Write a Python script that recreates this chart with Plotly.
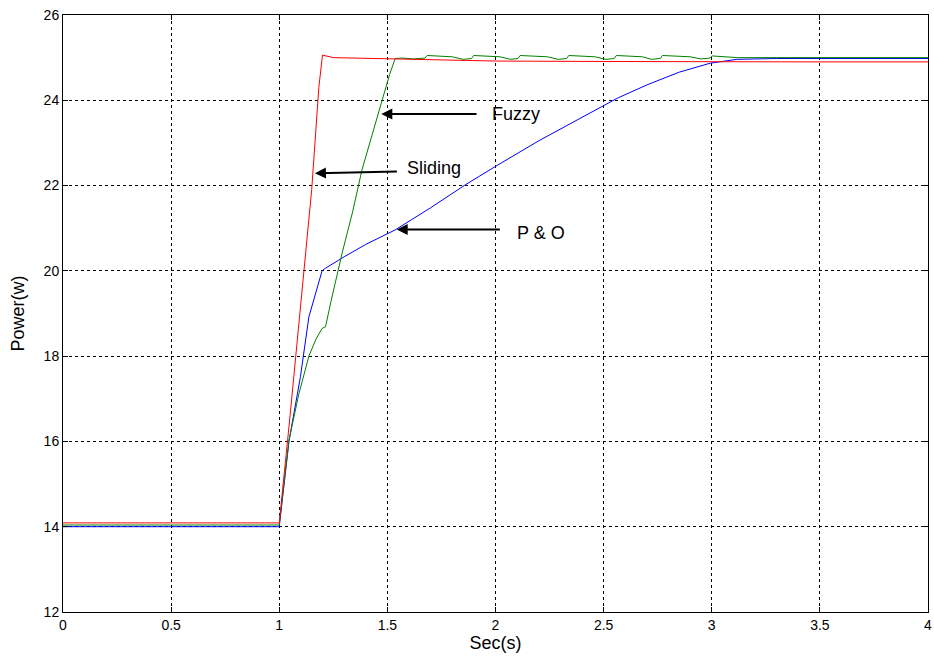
import plotly.graph_objects as go

# Time axis (s) and power (W) traces for the three MPPT controllers
t_sliding = [0.0, 1.0, 1.05, 1.1, 1.15, 1.183, 1.2, 1.25, 1.5, 1.7, 2.0, 2.5, 3.0, 3.5, 4.0]
p_sliding = [14.09, 14.09, 16.6, 19.3, 21.9, 24.3, 25.06, 25.0, 24.97, 24.94, 24.92, 24.91, 24.9, 24.9, 24.9]

t_fuzzy = [0.0, 1.0, 1.045, 1.09, 1.137, 1.17, 1.198, 1.214, 1.24, 1.29, 1.34, 1.382, 1.43, 1.474, 1.51, 1.536,
           1.57, 1.62, 1.674, 1.684, 1.80, 1.85, 1.889, 1.899, 2.02, 2.07, 2.104, 2.114, 2.24, 2.29, 2.329, 2.339,
           2.46, 2.51, 2.549, 2.559, 2.68, 2.72, 2.762, 2.772, 2.90, 2.95, 2.992, 3.002, 3.12, 3.5, 4.0]
p_fuzzy = [14.04, 14.04, 16.03, 17.1, 18.0, 18.4, 18.65, 18.69, 19.3, 20.4, 21.4, 22.36, 23.2, 24.0, 24.6, 24.98,
           24.99, 24.97, 24.99, 25.05, 25.02, 24.96, 24.98, 25.05, 25.02, 24.96, 24.98, 25.05, 25.02, 24.96, 24.98, 25.05,
           25.02, 24.96, 24.98, 25.05, 25.02, 24.96, 24.98, 25.05, 25.02, 24.97, 24.99, 25.04, 25.0, 25.0, 25.0]

t_po = [0.0, 1.0, 1.045, 1.098, 1.137, 1.198, 1.21, 1.3, 1.4, 1.536, 1.7, 1.858, 2.0, 2.2, 2.4, 2.502, 2.564, 2.7, 2.85,
        2.993, 3.116, 3.3, 3.6, 4.0]
p_po = [14.0, 14.0, 16.0, 17.52, 18.92, 20.0, 20.05, 20.33, 20.62, 20.96, 21.48, 22.01, 22.45, 23.05, 23.6, 23.89, 24.05,
        24.36, 24.66, 24.87, 24.96, 24.98, 24.98, 24.98]

x_ticks = [0, 0.5, 1, 1.5, 2, 2.5, 3, 3.5, 4]
x_labels = ["0", "0.5", "1", "1.5", "2", "2.5", "3", "3.5", "4"]
y_ticks = [12, 14, 16, 18, 20, 22, 24, 26]

# Labels with arrows: (name, arrow tip x, tip y, tail x, tail y, text x, text y)
callouts = [
    ("Fuzzy", 1.472, 23.68, 1.919, 23.68, 1.973, 23.68),
    ("Sliding", 1.165, 22.29, 1.551, 22.33, 1.582, 22.41),
    ("P & O", 1.543, 20.97, 2.027, 20.97, 2.088, 20.89),
]

FONT = "Liberation Sans, Arial, sans-serif"

fig = go.Figure()
fig.add_trace(go.Scatter(x=t_po, y=p_po, mode="lines", line=dict(color="#0000ff", width=1), name="P & O"))
fig.add_trace(go.Scatter(x=t_fuzzy, y=p_fuzzy, mode="lines", line=dict(color="#008000", width=1), name="Fuzzy"))
fig.add_trace(go.Scatter(x=t_sliding, y=p_sliding, mode="lines", line=dict(color="#ff0000", width=1), name="Sliding"))

annotations = []
for name, tx, ty, ax, ay, lx, ly in callouts:
    annotations.append(dict(
        x=tx, y=ty, ax=ax, ay=ay, xref="x", yref="y", axref="x", ayref="y",
        text="", showarrow=True, arrowhead=2, arrowsize=1.1, arrowwidth=2, arrowcolor="black",
    ))
    annotations.append(dict(
        x=lx, y=ly, xref="x", yref="y", text=name, showarrow=False,
        xanchor="left", yanchor="middle",
        font=dict(family=FONT, size=18, color="black"),
    ))

axis_font = dict(family=FONT, size=14, color="black")
title_font = dict(family=FONT, size=18, color="black")
fig.update_layout(
    width=934, height=656,
    margin=dict(l=63, r=6, t=15, b=44),
    paper_bgcolor="white", plot_bgcolor="white",
    showlegend=False,
    annotations=annotations,
    font=axis_font,
    xaxis=dict(
        range=[0, 4], tickvals=x_ticks, ticktext=x_labels,
        showgrid=True, gridcolor="black", gridwidth=1, griddash="3px,3px",
        showline=True, linecolor="black", linewidth=1, mirror="ticks",
        ticks="inside", ticklen=5, tickcolor="black", zeroline=False,
        tickfont=axis_font, ticklabeloverflow="allow", automargin=False,
        title=dict(text="Sec(s)", font=title_font, standoff=0),
    ),
    yaxis=dict(
        range=[12, 26], tickvals=y_ticks,
        showgrid=True, gridcolor="black", gridwidth=1, griddash="3px,3px",
        showline=True, linecolor="black", linewidth=1, mirror="ticks",
        ticks="inside", ticklen=5, tickcolor="black", zeroline=False,
        tickfont=axis_font, ticklabeloverflow="allow", automargin=False,
        title=dict(text="Power(w)", font=title_font, standoff=14),
    ),
)

fig.write_html("out.html")
